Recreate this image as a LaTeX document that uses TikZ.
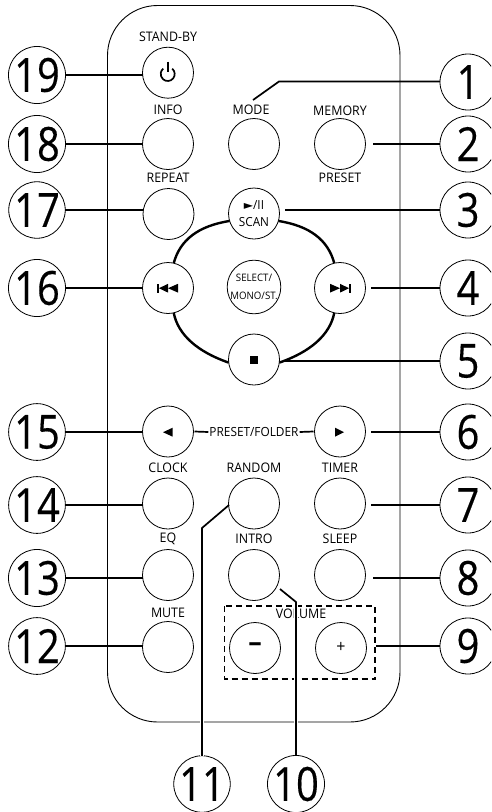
\documentclass[tikz,border=0pt]{standalone}
\usepackage{fontspec}
\setmainfont{Open Sans}
\newfontfamily\numfont[FakeStretch=0.85,FakeBold=0.3]{Open Sans}
\newfontfamily\labfont[FakeStretch=0.94]{Open Sans}
\newfontfamily\symfont{DejaVu Sans}
\tikzset{
  x=1pt,y=-1pt,
  bodyline/.style={line width=0.9pt},
  btn/.style={circle,draw,line width=0.8pt,fill=white,minimum size=51pt,inner sep=0pt,outer sep=0pt,align=center},
  callout/.style={circle,draw,line width=0.8pt,fill=white,minimum size=56pt,inner sep=0pt,outer sep=0pt,font=\numfont\fontsize{47}{47}\selectfont},
  lab/.style={inner sep=0pt,font=\labfont\fontsize{13.2}{14}\selectfont},
  leader/.style={line width=1.7pt},
  halo/.style={line width=4.5pt,white},
  ring/.style={line width=2.4pt},
  icon/.style={fill=black,draw=none}
}
\begin{document}
\begin{tikzpicture}
\path[use as bounding box] (0,0) rectangle (491,812);
\clip (0,0) rectangle (491,812);
% body
\draw[bodyline,rounded corners=50pt] (107.5,5.5) rectangle (400,722);
% labels
\node[lab] (tStandby) at (168,36.5) {STAND-BY};
\node[lab] (tInfo) at (168,110) {INFO};
\node[lab] (tMode) at (251,110) {MODE};
\node[lab] (tMemory) at (340,111) {MEMORY};
\node[lab] (tPreset) at (340,178) {PRESET};
\node[lab] (tRepeat) at (168,178) {REPEAT};
\node[lab] (tClock) at (168,468) {CLOCK};
\node[lab] (tRandom) at (254,468) {RANDOM};
\node[lab] (tTimer) at (340,468) {TIMER};
\node[lab] (tEq) at (168,539) {EQ};
\node[lab] (tIntro) at (254,539) {INTRO};
\node[lab] (tSleep) at (340,539) {SLEEP};
\node[lab] (tMute) at (168,613) {MUTE};
\node[lab] (tVolume) at (301,614) {VOLUME};
\node[lab,font=\labfont\fontsize{12.6}{14}\selectfont] (tFolder) at (254,432) {PRESET/FOLDER};
% buttons
\node[btn] (bStandby) at (168,72.7) {};
\node[btn] (bInfo) at (168,144) {};
\node[btn] (bMode) at (254,144) {};
\node[btn] (bMemory) at (340,144) {};
\node[btn] (bRepeat) at (168.5,214) {};
\node[btn,font=\labfont\fontsize{12.5}{17}\selectfont] (bScan) at (254,213.5) {{\symfont\fontsize{12}{12}\selectfont ►}/II\\SCAN};
\node[btn] (bPrev) at (168,288) {};
\node[btn,font=\labfont\fontsize{10.3}{18}\selectfont] (bSelect) at (254,287) {SELECT/\\MONO/ST.};
\node[btn] (bNext) at (340,288) {};
\node[btn] (bStop) at (254,359.5) {};
\node[btn] (bLeft) at (168,431.5) {};
\node[btn] (bRight) at (340,431.5) {};
\node[btn] (bClock) at (168,503.5) {};
\node[btn] (bRandom) at (254,503.5) {};
\node[btn] (bTimer) at (340,503.5) {};
\node[btn] (bEq) at (168,575) {};
\node[btn] (bIntro) at (254,575) {};
\node[btn] (bSleep) at (340,575) {};
\node[btn] (bMute) at (168,647) {};
\node[btn,font=\bfseries\fontsize{27}{27}\selectfont] (bMinus) at (255,648) {\raisebox{1pt}{–}};
\node[btn,font=\labfont\fontsize{17}{17}\selectfont] (bPlus) at (341,648) {\raisebox{1pt}{+}};
% transport ring
\draw[ring] (bScan.197) .. controls (198,226) and (180,240) .. (bPrev.77);
\draw[ring] (bScan.-17) .. controls (310,226) and (328,240) .. (bNext.103);
\draw[ring] (bPrev.-77) .. controls (178,335) and (198,352) .. (bStop.187);
\draw[ring] (bNext.-103) .. controls (330,335) and (310,352) .. (bStop.-7);
% icons
\draw[line width=1.7pt] (167.7,74) ++(-50:7) arc[start angle=-50,end angle=230,radius=7];
\draw[line width=1.7pt] (167.7,61.5) -- (167.7,72);
\fill[icon] (157,283.8) rectangle (158.7,292.6);
\fill[icon] (159,288.2) -- (168,283.8) -- (168,292.6) -- cycle;
\fill[icon] (168,288.2) -- (178,283.8) -- (178,292.6) -- cycle;
\fill[icon] (351,283.8) rectangle (349.3,292.6);
\fill[icon] (349,288.2) -- (340,283.8) -- (340,292.6) -- cycle;
\fill[icon] (340,288.2) -- (330,283.8) -- (330,292.6) -- cycle;
\fill[icon] (249.5,356) rectangle (258,364);
\fill[icon] (163,432.2) -- (172.7,427.7) -- (172.7,436.7) -- cycle;
\fill[icon] (344,432.2) -- (335,427.7) -- (335,436.7) -- cycle;
% dashed box
\draw[line width=1.4pt,dash pattern=on 6pt off 4pt] (224.5,606) rectangle (375,679);
% callouts
\node[callout] (c1) at (468,82) {1};
\node[callout] (c2) at (468,144) {2};
\node[callout] (c3) at (468,210) {3};
\node[callout] (c4) at (468,288) {4};
\node[callout] (c5) at (468,361) {5};
\node[callout] (c6) at (468,432) {6};
\node[callout] (c7) at (468,505) {7};
\node[callout] (c8) at (468,578) {8};
\node[callout] (c9) at (468,646) {9};
\node[callout] (c10) at (296,784) {10};
\node[callout] (c11) at (202,784) {11};
\node[callout] (c12) at (37,646) {12};
\node[callout] (c13) at (37,578) {13};
\node[callout] (c14) at (37,505) {14};
\node[callout] (c15) at (37,432) {15};
\node[callout] (c16) at (37,288) {16};
\node[callout] (c17) at (37,210) {17};
\node[callout] (c18) at (37,144) {18};
\node[callout] (c19) at (37,75) {19};
% free ends
\coordinate (k1a) at (279,81.5);
\coordinate (k1b) at (253,100);
\coordinate (e2) at (373,144);
\coordinate (e3) at (285,210);
\coordinate (e4) at (371,288);
\coordinate (e5) at (285,361);
\coordinate (e6) at (371,432);
\coordinate (e7) at (371,505);
\coordinate (e8) at (373,578);
\coordinate (e9) at (376,646);
\coordinate (k10a) at (296,602);
\coordinate (k10b) at (280,589);
\coordinate (k11a) at (202,528);
\coordinate (k11b) at (229,505);
% leaders
\draw[leader] (c1.west |- k1a) -- (k1a) -- (k1b);
\draw[leader] (c2.west) -- (e2);
\draw[leader] (c3.west) -- (e3);
\draw[leader] (c4.west) -- (e4);
\draw[leader] (c5.west) -- (e5);
\draw[leader] (c6.west) -- (e6);
\draw[leader] (c7.west) -- (e7);
\draw[leader] (c8.west) -- (e8);
\draw[leader] (c9.west) -- (e9);
\draw[halo] (c10.north) -- (k10a);
\draw[leader] (c10.north) -- (k10a) -- (k10b);
\draw[halo] (c11.north) -- (k11a);
\draw[leader] (c11.north) -- (k11a) -- (k11b);
\draw[leader] (c12.east) -- (c12.east -| bMute.west);
\draw[leader] (c13.east) -- (c13.east -| bEq.west);
\draw[leader] (c14.east) -- (c14.east -| bClock.west);
\draw[leader] (c15.east) -- (c15.east -| bLeft.west);
\draw[leader] (c16.east) -- (c16.east -| bPrev.west);
\draw[leader] (c17.east) -- (c17.east -| bRepeat.west);
\draw[leader] (c18.east) -- (c18.east -| bInfo.west);
\draw[leader] (c19.east) -- (c19.east -| bStandby.west);
\draw[leader] ([xshift=1pt]bLeft.east) -- ([xshift=-1pt]tFolder.west);
\draw[leader] ([xshift=1pt]tFolder.east) -- ([xshift=-1pt]bRight.west);
\end{tikzpicture}
\end{document}
